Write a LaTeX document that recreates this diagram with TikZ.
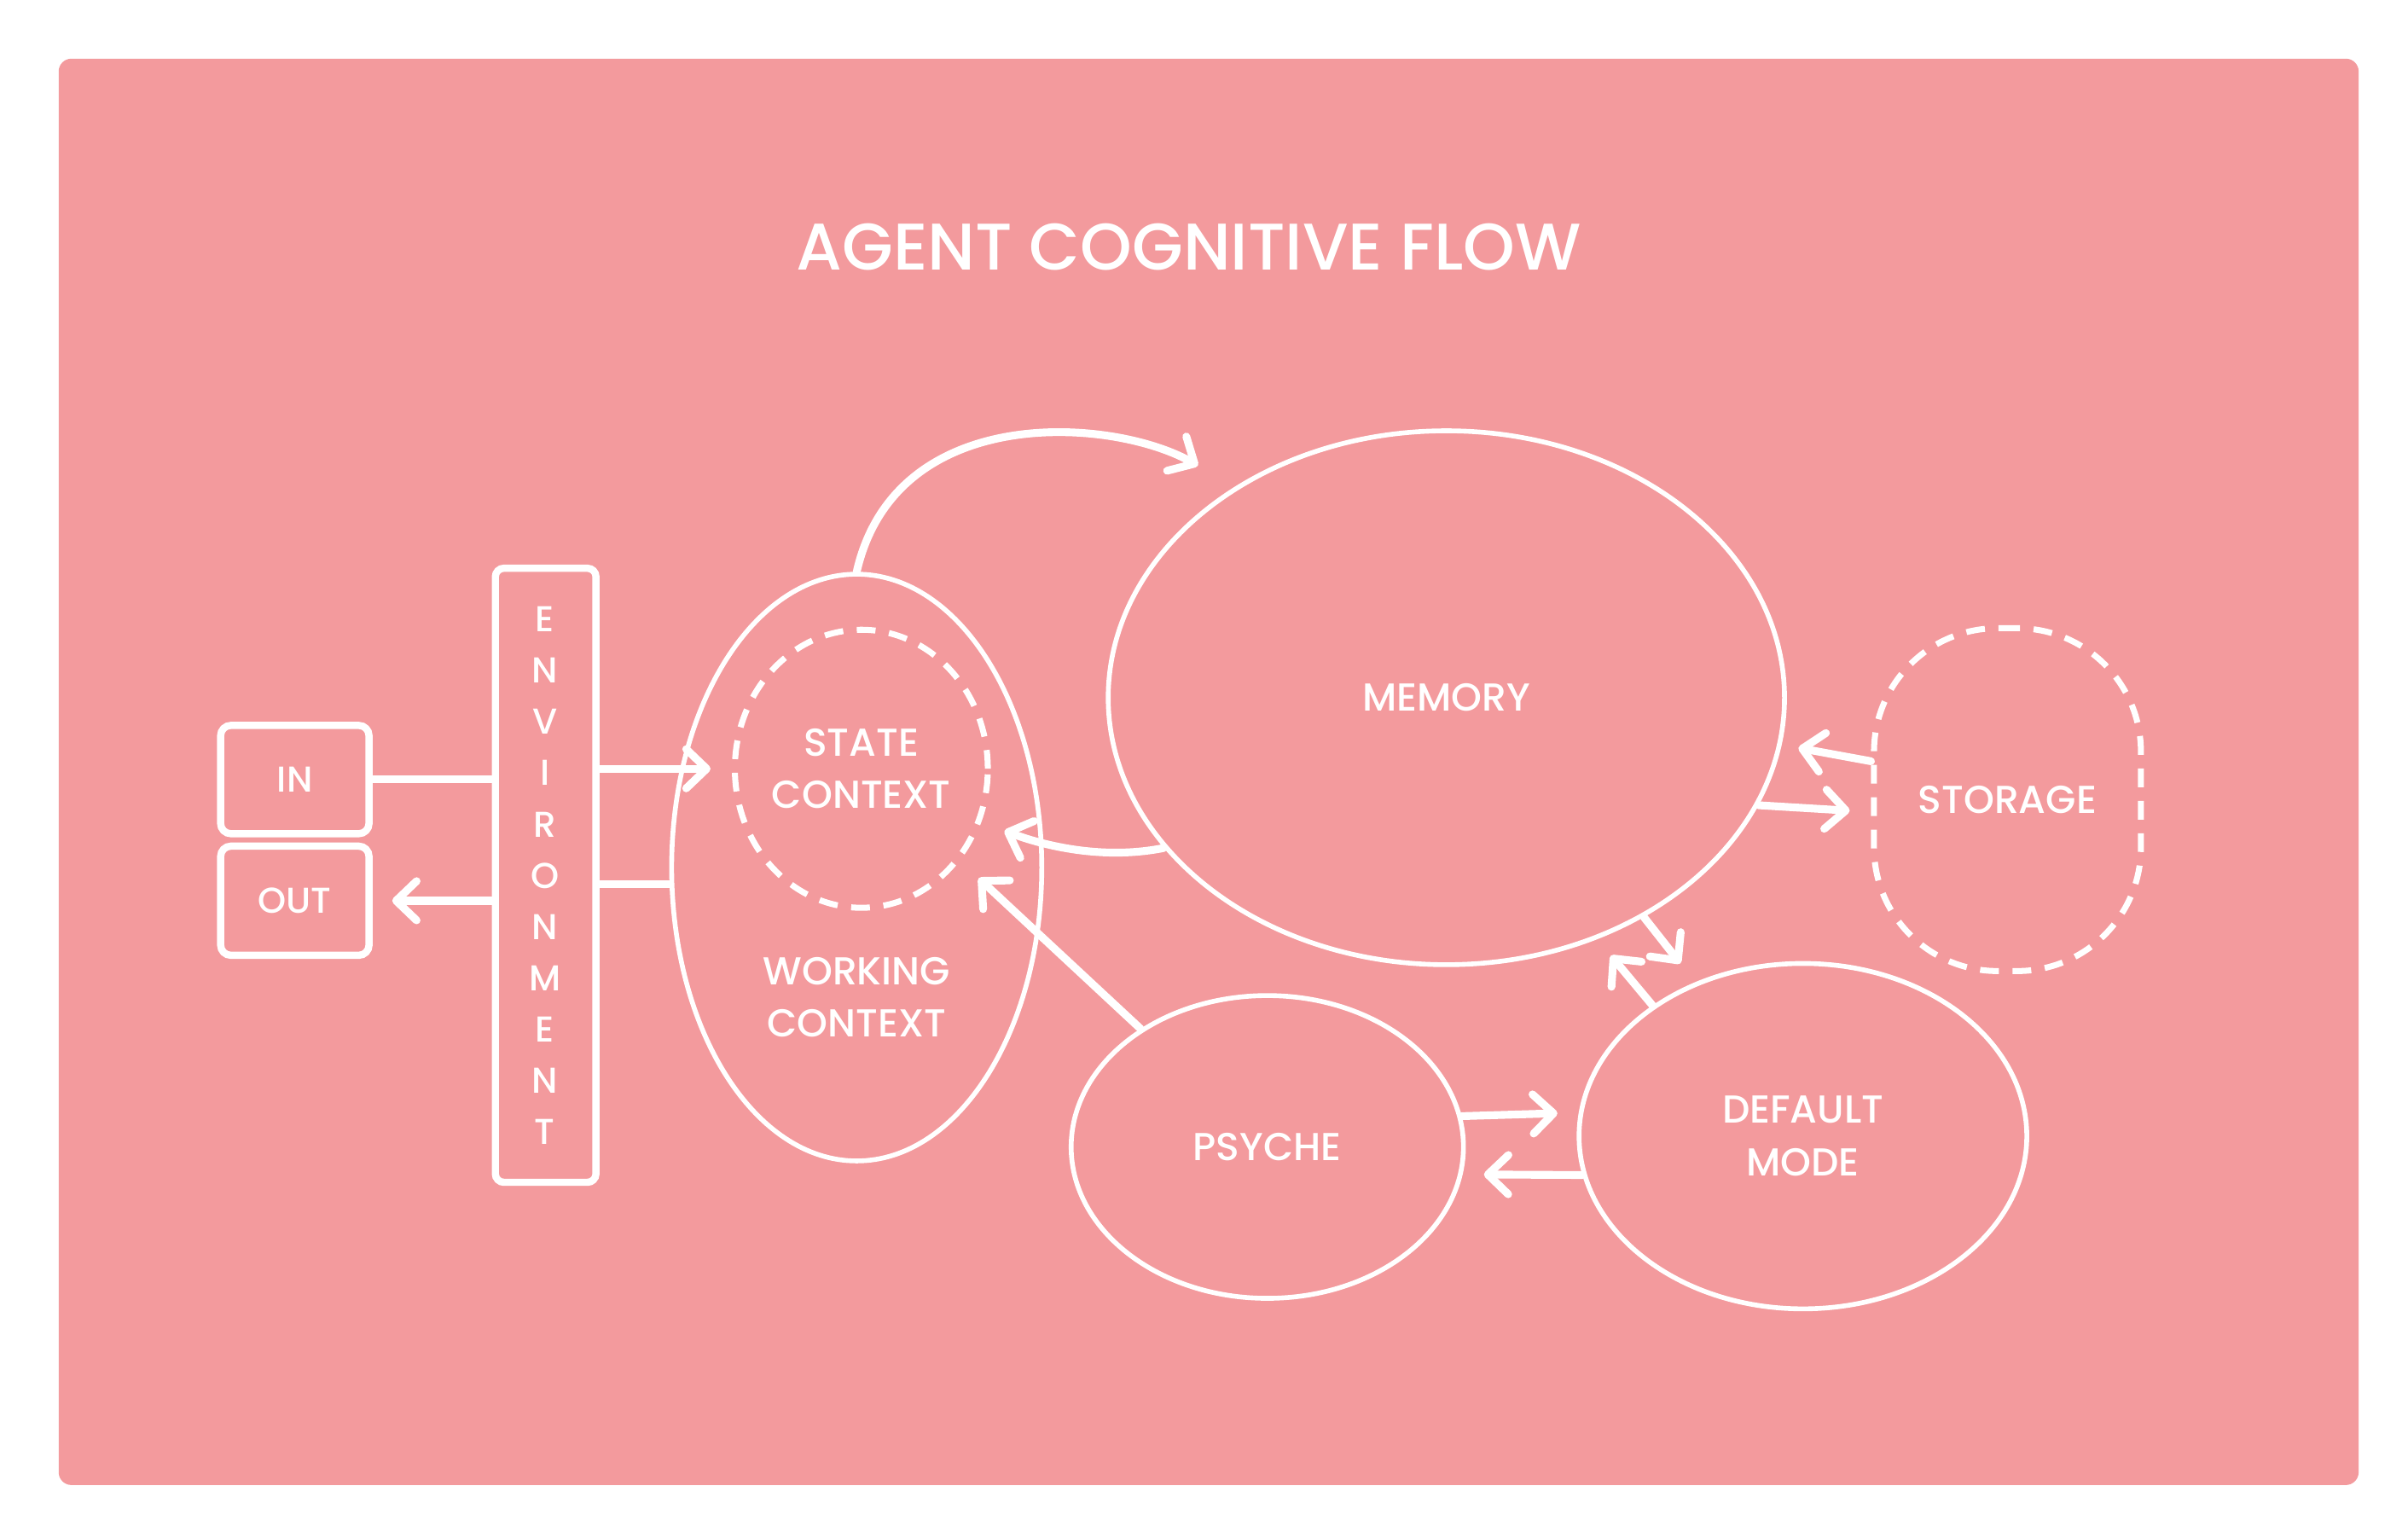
\documentclass[tikz,border=0pt]{standalone}
\usepackage{fontspec}
\setmainfont{Poppins}[BoldFont=* Medium]
\usetikzlibrary{shapes.geometric,arrows.meta}
\definecolor{bgpink}{RGB}{243,154,157}

\begin{document}
\begin{tikzpicture}[x=0.181mm, y=-0.181mm,
    bubble/.style={ellipse, draw=white, line width=1.6pt, inner sep=0pt, text=white, align=center, font=\fontsize{13}{17.5}\selectfont\bfseries},
    dashBubble/.style={bubble, line width=2pt, dash pattern=on 2.2mm off 1.6mm},
    boxStyle/.style={rectangle, draw=white, line width=2.4pt, rounded corners=1.2mm, inner sep=0pt, text=white, font=\fontsize{12}{14}\selectfont\bfseries},
    labelStyle/.style={text=white, align=center, font=\fontsize{13}{17.5}\selectfont\bfseries},
    wire/.style={draw=white, line width=2.6pt, line cap=round},
    link/.style={wire, -{Straight Barb[length=2.4mm, width=4.6mm, round]}}]
    \fill[white] (0,0) rectangle (1560,996);
    \useasboundingbox (0,0) rectangle (1560,996);
    \fill[bgpink, rounded corners=1.5mm] (38,38) rectangle (1528,962);

    \node[labelStyle, font=\fontsize{22}{26}\selectfont\bfseries] (title) at (770,160) {AGENT COGNITIVE FLOW};

    % left side
    \node[boxStyle, minimum width=17.4mm, minimum height=12.7mm] (in) at (191,505) {IN};
    \node[boxStyle, minimum width=17.4mm, minimum height=12.8mm] (out) at (191,583.5) {OUT};
    \node[boxStyle, rounded corners=1mm, minimum width=11.8mm, minimum height=72mm] (env) at (353.5,567) {};
    \foreach \ltr [count=\i] in {E,N,V,I,R,O,N,M,E,N,T}
        \node[labelStyle, font=\fontsize{12}{14}\selectfont\bfseries] (env\i) at (353,368+33.2*\i) {\ltr};

    % bubbles
    \node[bubble, minimum width=43.4mm, minimum height=68.8mm] (work) at (555,562) {};
    \node[labelStyle] (workText) at (555,646) {WORKING\\CONTEXT};
    \node[dashBubble, minimum width=29.5mm, minimum height=32.6mm] (state) at (558,498) {STATE\\CONTEXT};
    \node[bubble, minimum width=79.3mm, minimum height=62.6mm] (mem) at (937,452) {MEMORY};
    \node[dashBubble, rectangle, rounded corners=14.5mm, minimum width=31.3mm, minimum height=40.2mm] (storage) at (1300.5,518) {STORAGE};
    \node[bubble, minimum width=46mm, minimum height=35.5mm] (psyche) at (821,743) {PSYCHE};
    \node[bubble, minimum width=52.5mm, minimum height=40.5mm] (def) at (1168,736) {DEFAULT\\MODE};

    % connectors
    \draw[wire] (in.east) -- (in.east -| env.west);
    \draw[link, shorten >=2.3mm] (out.east -| env.west) -- (out.east);
    \draw[link, shorten >=2.5mm] (env.east |- state.west) -- (state.west);
    \draw[wire] (env.east |- work.185) -- (work.185);

    \draw[link, shorten >=5mm] (work.north) .. controls +(25,-110) and +(-80,-45) .. (mem.135);
    \draw[link, shorten >=2.9mm] (mem.208) .. controls +(-40,8) and +(40,15) .. (state.336);
    \draw[link, shorten >=3mm] (psyche.137) -- (state.317);

    \draw[link, shorten >=2mm] ([yshift=4.5mm]storage.west) -- (mem.352);
    \draw[link, shorten >=2.5mm] (mem.341) -- ([yshift=-1.45mm]storage.west);

    \draw[link, shorten >=2.8mm] (mem.312) -- (def.125);
    \draw[link, shorten >=2.5mm] (def.139) -- (mem.302);
    \draw[link, shorten >=2.5mm] (psyche.9) -- (def.174);
    \draw[link, shorten >=2.5mm] (def.190) -- (psyche.352);
\end{tikzpicture}
\end{document}
